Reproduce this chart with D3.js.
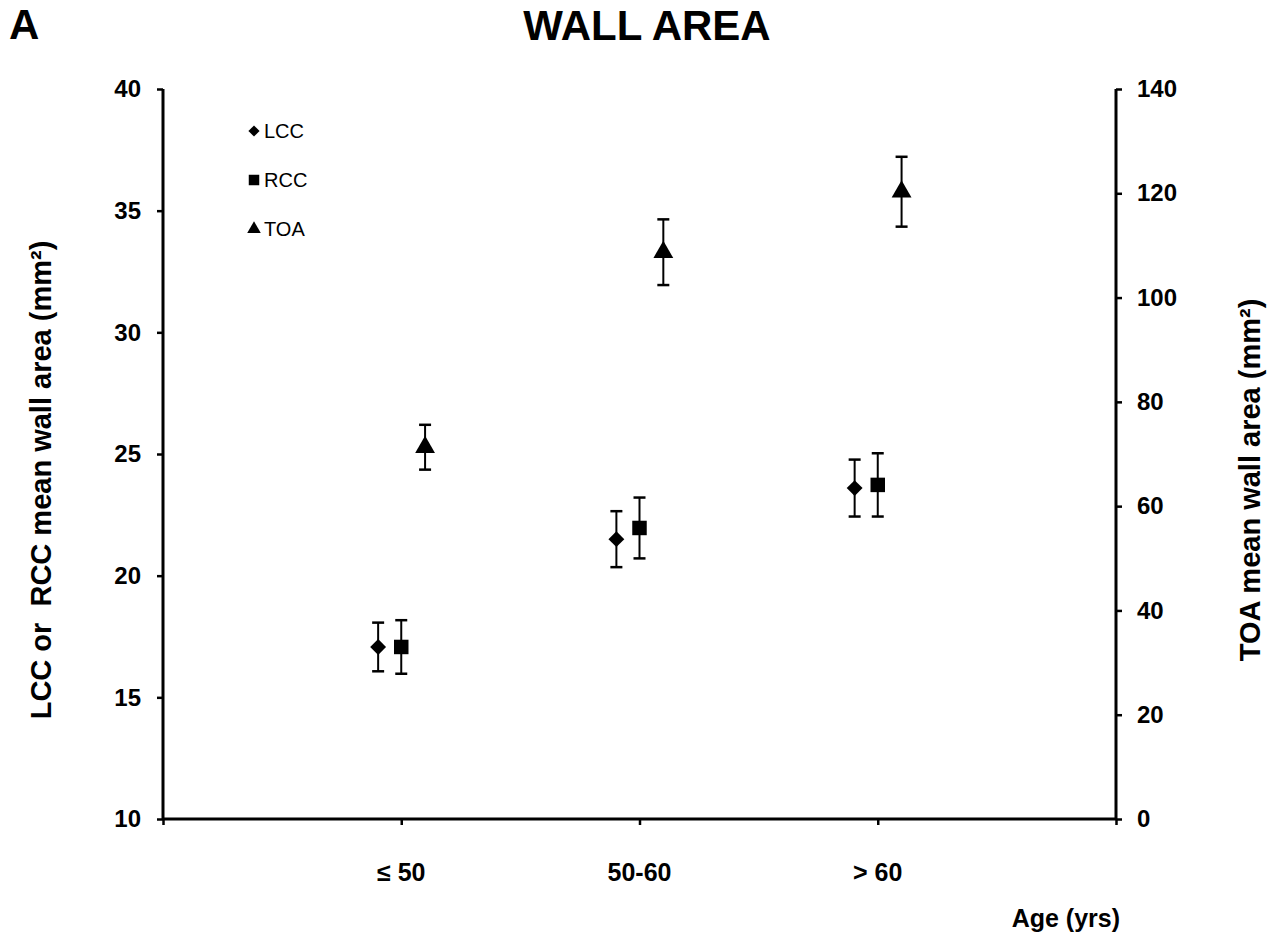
<!DOCTYPE html>
<html>
<head>
<meta charset="utf-8">
<script src="https://cdn.jsdelivr.net/npm/d3@7"></script>
<style>
  body { margin: 0; background: #fff; }
  svg { font-family: "Liberation Sans", Arial, sans-serif; }
</style>
</head>
<body>
<div id="chart"></div>
<script>
// Age groups and their positions on the x axis
const ageGroups = ['≤ 50', '50-60', '> 60'];

// LCC / RCC mean wall area (left axis, mm²) with error
const lccMean = [17.07, 21.5, 23.6];
const lccErr  = [1.0, 1.15, 1.17];
const rccMean = [17.07, 21.96, 23.73];
const rccErr  = [1.1, 1.25, 1.3];

// TOA mean wall area (right axis, mm²) with error
const toaMean = [71.3, 108.7, 120.3];
const toaErr  = [4.3, 6.3, 6.7];

const leftTicks  = [10, 15, 20, 25, 30, 35, 40];
const rightTicks = [0, 20, 40, 60, 80, 100, 120, 140];

const width = 1284, height = 939;
const margin = { left: 163, right: 168, top: 89, bottom: 120 };

const svg = d3.select('#chart').append('svg')
    .attr('width', width)
    .attr('height', height);

const x = d3.scaleLinear().domain([0, 4]).range([margin.left, width - margin.right]);
const yLeft = d3.scaleLinear().domain([10, 40]).range([height - margin.bottom, margin.top]);
const yRight = d3.scaleLinear().domain([0, 140]).range([height - margin.bottom, margin.top]);

// offsets of each series relative to the group centre (in x units)
const offset = { LCC: -0.097, RCC: 0, TOA: 0.1 };

// Axes
const xAxis = svg.append('g')
    .attr('transform', `translate(0,${height - margin.bottom})`)
    .call(d3.axisBottom(x).tickValues([0, 1, 2, 3, 4]).tickSize(6).tickFormat(''));

const leftAxis = svg.append('g')
    .attr('transform', `translate(${margin.left},0)`)
    .call(d3.axisLeft(yLeft).tickValues(leftTicks).tickSize(6).tickPadding(16));

const rightAxis = svg.append('g')
    .attr('transform', `translate(${width - margin.right},0)`)
    .call(d3.axisRight(yRight).tickValues(rightTicks).tickSize(6).tickPadding(15));

[xAxis, leftAxis, rightAxis].forEach(a => {
    a.select('.domain').attr('stroke', '#000').attr('stroke-width', 3);
    a.selectAll('.tick line').attr('stroke', '#000').attr('stroke-width', 2.5);
    a.selectAll('.tick text')
        .attr('fill', '#000')
        .style('font-size', '24px')
        .style('font-weight', 'bold');
});
xAxis.select('.domain').attr('d', `M${x(0)},0H${x(4)}`);
leftAxis.select('.domain').attr('d', `M0,${yLeft(10)}V${yLeft(40)}`);
rightAxis.select('.domain').attr('d', `M0,${yRight(0)}V${yRight(140)}`);

// Category labels
svg.append('g').selectAll('text')
    .data(ageGroups)
    .enter()
    .append('text')
    .attr('x', (d, i) => x(i + 1))
    .attr('y', 881)
    .attr('text-anchor', 'middle')
    .style('font-size', '25px')
    .style('font-weight', 'bold')
    .text(d => d);

// Titles
svg.append('text')
    .attr('x', 647).attr('y', 40)
    .attr('text-anchor', 'middle')
    .style('font-size', '42px').style('font-weight', 'bold')
    .text('WALL AREA');

svg.append('text')
    .attr('x', 9).attr('y', 39)
    .style('font-size', '42px').style('font-weight', 'bold')
    .text('A');

svg.append('text')
    .attr('transform', 'translate(51,480) rotate(-90)')
    .attr('text-anchor', 'middle')
    .style('font-size', '29px').style('font-weight', 'bold')
    .style('white-space', 'pre')
    .text('LCC or  RCC mean wall area (mm²)');

svg.append('text')
    .attr('transform', 'translate(1260,480) rotate(-90)')
    .attr('text-anchor', 'middle')
    .style('font-size', '29px').style('font-weight', 'bold')
    .text('TOA mean wall area (mm²)');

svg.append('text')
    .attr('x', 1120).attr('y', 927)
    .attr('text-anchor', 'end')
    .style('font-size', '25px').style('font-weight', 'bold')
    .text('Age (yrs)');

// Series
const series = [
    { name: 'LCC', mean: lccMean, err: lccErr, y: yLeft, symbol: d3.symbolDiamond2, size: 160 },
    { name: 'RCC', mean: rccMean, err: rccErr, y: yLeft, symbol: d3.symbolSquare, size: 210 },
    { name: 'TOA', mean: toaMean, err: toaErr, y: yRight, symbol: d3.symbolTriangle, size: 170 }
];

series.forEach(s => {
    const g = svg.append('g').attr('class', s.name);
    const pts = s.mean.map((m, i) => ({ xv: i + 1 + offset[s.name], m: m, e: s.err[i] }));

    const bars = g.selectAll('g.err').data(pts).enter().append('g').attr('class', 'err');
    bars.append('line')
        .attr('x1', d => x(d.xv)).attr('x2', d => x(d.xv))
        .attr('y1', d => s.y(d.m - d.e)).attr('y2', d => s.y(d.m + d.e))
        .attr('stroke', '#000').attr('stroke-width', 2);
    [-1, 1].forEach(sign => {
        bars.append('line')
            .attr('x1', d => x(d.xv) - 6).attr('x2', d => x(d.xv) + 6)
            .attr('y1', d => s.y(d.m + sign * d.e)).attr('y2', d => s.y(d.m + sign * d.e))
            .attr('stroke', '#000').attr('stroke-width', 2.5);
    });

    g.selectAll('path.pt').data(pts).enter().append('path')
        .attr('class', 'pt')
        .attr('transform', d => `translate(${x(d.xv)},${s.y(d.m)})`)
        .attr('d', d3.symbol().type(s.symbol).size(s.size))
        .attr('fill', '#000');
});

// Legend
const legend = svg.append('g').attr('transform', 'translate(254,131)');
const legItems = legend.selectAll('g').data(series).enter().append('g')
    .attr('transform', (d, i) => `translate(0,${i * 49})`);
legItems.append('path')
    .attr('d', d => d3.symbol().type(d.symbol).size(d.name === 'RCC' ? 110 : 80)())
    .attr('fill', '#000');
legItems.append('text')
    .attr('x', 10).attr('y', 7)
    .style('font-size', '20px')
    .text(d => d.name);
</script>
</body>
</html>
